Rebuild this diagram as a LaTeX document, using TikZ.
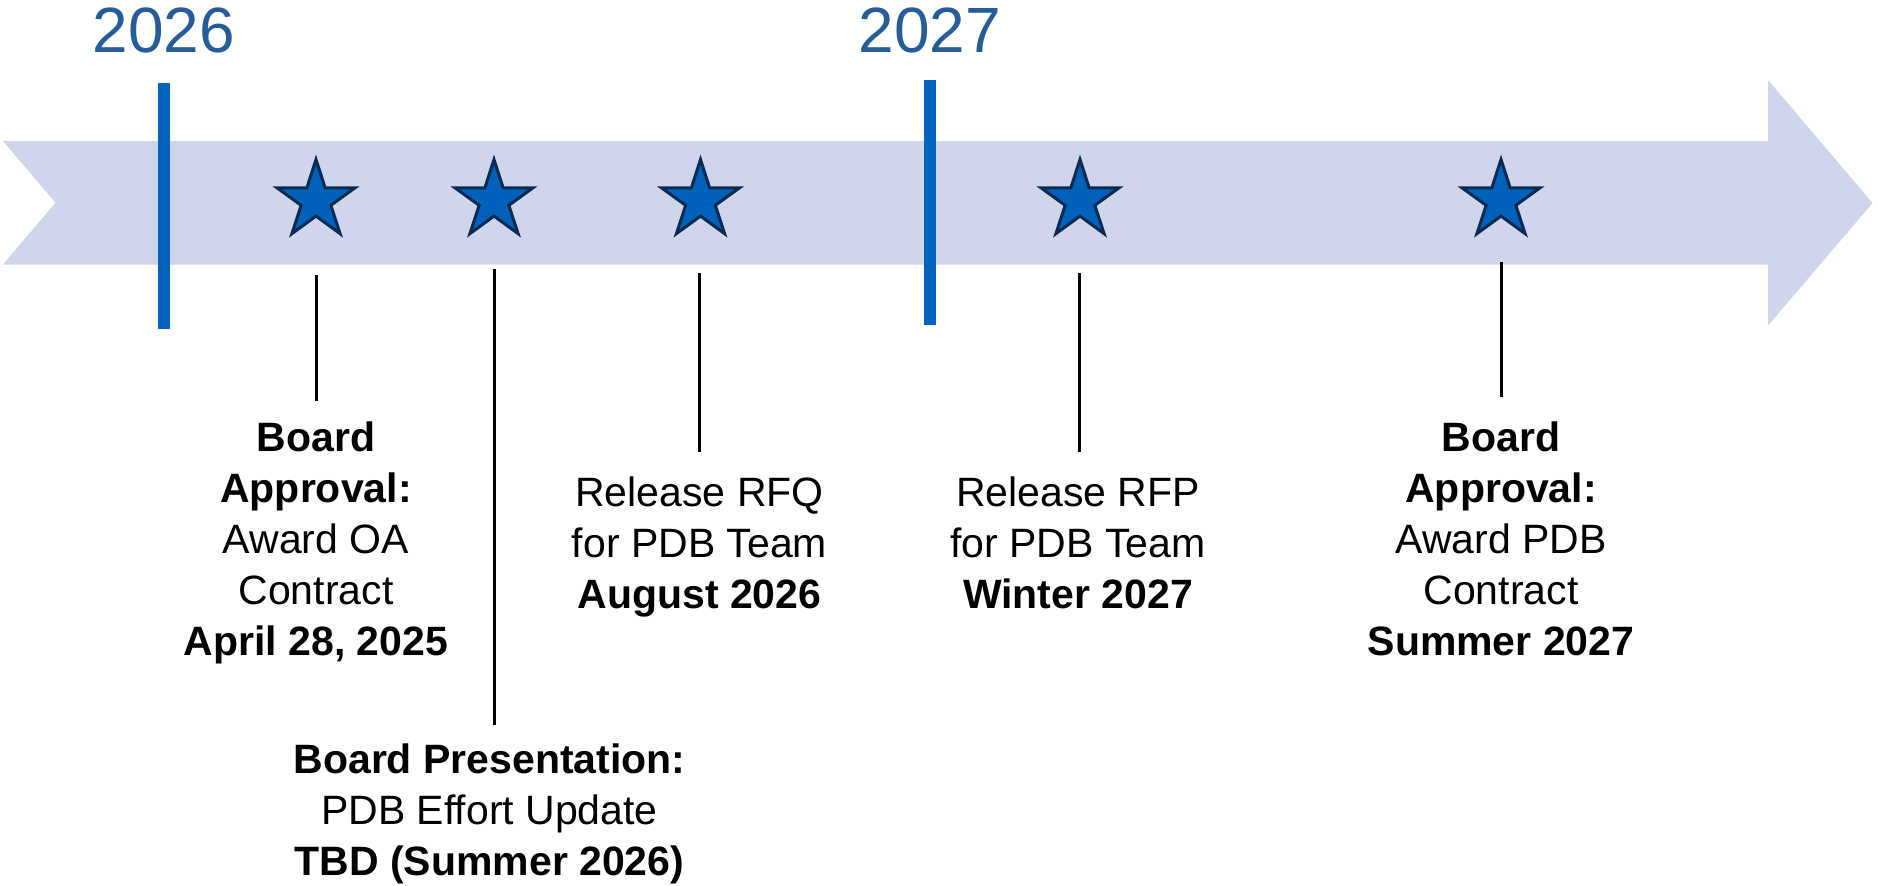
\documentclass[tikz,border=0pt]{standalone}
\usepackage{fontspec}
\setmainfont{Liberation Sans}
\usetikzlibrary{shapes.geometric}
\definecolor{bandcol}{HTML}{CFD5EA}
\definecolor{barcol}{HTML}{0064BE}
\definecolor{starfill}{HTML}{0062BB}
\definecolor{starline}{HTML}{0C2A52}
\definecolor{yeartext}{HTML}{265D98}
\begin{document}
\begin{tikzpicture}[x=0.5pt,y=-0.5pt,
  yearlbl/.style={font=\fontsize{32pt}{38pt}\selectfont, text=yeartext, anchor=base, inner sep=0pt},
  yearmark/.style={line width=5.75pt, draw=barcol},
  starmark/.style={star, star points=5, star point ratio=2.63, minimum size=41pt, inner sep=0pt,
    fill=starfill, draw=starline, line width=1.5pt},
  leader/.style={line width=1.5pt, draw=black},
  milestone/.style={align=center, anchor=base, inner sep=0pt, font=\fontsize{20.5pt}{25.4pt}\selectfont}
]
\useasboundingbox (0,0) rectangle (1878,885);

% timeline band arrow
\fill[bandcol] (3,141) -- (1768,141) -- (1768,80) -- (1872.5,203) -- (1768,325.5)
  -- (1768,264.5) -- (3,264.5) -- (55.5,202.7) -- cycle;

% year markers
\coordinate (y1a) at (164,83);
\coordinate (y1b) at (164,329);
\coordinate (y2a) at (930,79.5);
\coordinate (y2b) at (930,324.5);
\draw[yearmark] (y1a) -- (y1b);
\draw[yearmark] (y2a) -- (y2b);
\node[yearlbl] (yr1) at (164,52) {2026};
\node[yearlbl] (yr2) at (930,52) {2027};

% stars
\node[starmark] (s1) at (316,200.5) {};
\node[starmark] (s2) at (494,200.5) {};
\node[starmark] (s3) at (700.5,200.5) {};
\node[starmark] (s4) at (1080,200.5) {};
\node[starmark] (s5) at (1501,200.5) {};

% leader lines
\coordinate (l1a) at (316,275);   \coordinate (l1b) at (316,401);
\coordinate (l2a) at (494,269);   \coordinate (l2b) at (494,725);
\coordinate (l3a) at (699.5,272.7); \coordinate (l3b) at (699.5,451.7);
\coordinate (l4a) at (1079,272.7);  \coordinate (l4b) at (1079,451.7);
\coordinate (l5a) at (1501,262);  \coordinate (l5b) at (1501,396.5);
\draw[leader] (l1a) -- (l1b);
\draw[leader] (l2a) -- (l2b);
\draw[leader] (l3a) -- (l3b);
\draw[leader] (l4a) -- (l4b);
\draw[leader] (l5a) -- (l5b);

% milestone texts (anchor = baseline of last line)
\node[milestone] (t1) at (316,655) {\textbf{Board}\\\textbf{Approval:}\\Award OA\\Contract\\\textbf{April 28, 2025}};
\node[milestone] (t2) at (489.5,875) {\textbf{Board Presentation:}\\PDB Effort Update\\\textbf{TBD (Summer 2026)}};
\node[milestone] (t3) at (699.5,608) {Release RFQ\\for PDB Team\\\textbf{August 2026}};
\node[milestone] (t4) at (1078,608) {Release RFP\\for PDB Team\\\textbf{Winter 2027}};
\node[milestone] (t5) at (1501,655) {\textbf{Board}\\\textbf{Approval:}\\Award PDB\\Contract\\\textbf{Summer 2027}};
\end{tikzpicture}
\end{document}
